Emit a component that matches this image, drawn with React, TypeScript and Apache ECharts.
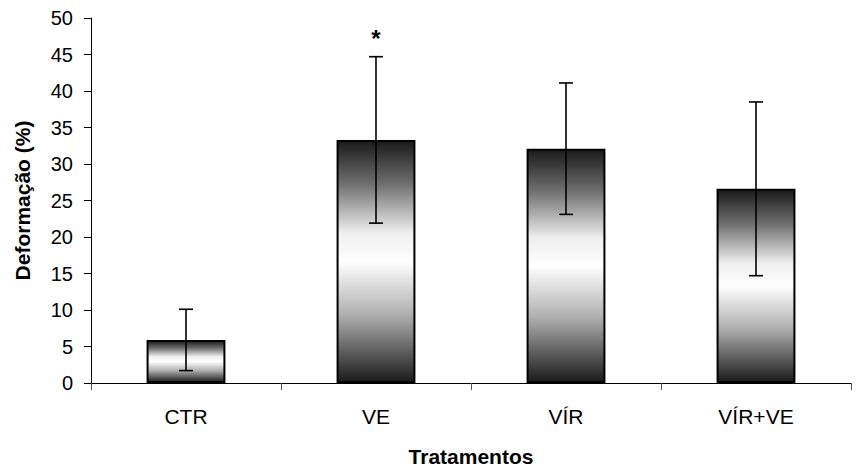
import React, { useEffect, useRef } from "react";
import * as echarts from "echarts";

const categories = ["CTR", "VE", "VÍR", "VÍR+VE"];
const means = [5.9, 33.3, 32.1, 26.6];
const errors = [4.2, 11.4, 9.0, 11.9];
const marks = ["", "*", "", ""];
const yTicks = { min: 0, max: 50, interval: 5 };

export default function App() {
  const ref = useRef<HTMLDivElement>(null);
  useEffect(() => {
    if (!ref.current) return;
    const chart = echarts.init(ref.current, undefined, { renderer: "svg" });
    const font = "Liberation Sans, Arial, sans-serif";
    const gradient = new echarts.graphic.LinearGradient(0, 0, 0, 1, [
      { offset: 0, color: "#1a1a1a" },
      { offset: 0.18, color: "#707070" },
      { offset: 0.38, color: "#eeeeee" },
      { offset: 0.5, color: "#ffffff" },
      { offset: 0.72, color: "#b0b0b0" },
      { offset: 1, color: "#1a1a1a" },
    ]);
    chart.setOption({
      animation: false,
      grid: { left: 91, right: 6, top: 18, bottom: 86 },
      xAxis: {
        type: "category",
        data: categories,
        axisLine: { lineStyle: { color: "#000", width: 1 } },
        axisTick: { show: true, length: 7, alignWithLabel: false, lineStyle: { color: "#555" } },
        axisLabel: { color: "#000", fontSize: 21, fontFamily: font, margin: 23 },
        name: "Tratamentos",
        nameLocation: "middle",
        nameGap: 63,
        nameTextStyle: { color: "#000", fontSize: 21, fontWeight: "bold", fontFamily: font },
      },
      yAxis: {
        type: "value",
        min: yTicks.min,
        max: yTicks.max,
        interval: yTicks.interval,
        axisLine: { show: true, lineStyle: { color: "#000", width: 1 } },
        axisTick: { show: true, length: 7, lineStyle: { color: "#000" } },
        splitLine: { show: false },
        axisLabel: { color: "#000", fontSize: 20, fontFamily: font, margin: 18 },
        name: "Deformação (%)",
        nameLocation: "middle",
        nameGap: 58,
        nameTextStyle: { color: "#000", fontSize: 21, fontWeight: "bold", fontFamily: font },
      },
      series: [
        {
          type: "bar",
          data: means,
          barWidth: "41.5%",
          itemStyle: { color: gradient, borderColor: "#000", borderWidth: 2 },
        },
        {
          type: "custom",
          data: categories.map((_, i) => [i, means[i] - errors[i], means[i] + errors[i]]),
          z: 10,
          renderItem: (params: any, api: any) => {
            const i = api.value(0);
            const lo = api.coord([i, api.value(1)]);
            const hi = api.coord([i, api.value(2)]);
            const x = lo[0];
            const half = 7;
            const style = { stroke: "#000", lineWidth: 1.6 };
            const children: any[] = [
              { type: "line", shape: { x1: x, y1: lo[1], x2: x, y2: hi[1] }, style },
              { type: "line", shape: { x1: x - half, y1: lo[1], x2: x + half, y2: lo[1] }, style },
              { type: "line", shape: { x1: x - half, y1: hi[1], x2: x + half, y2: hi[1] }, style },
            ];
            const m = marks[params.dataIndex];
            if (m) {
              children.push({
                type: "text",
                style: {
                  text: m,
                  x,
                  y: hi[1] - 30,
                  fill: "#000",
                  font: `bold 24px ${font}`,
                  align: "center",
                  verticalAlign: "top",
                },
              });
            }
            return { type: "group", children };
          },
        },
      ],
    });
    return () => chart.dispose();
  }, []);
  return (
    <div
      ref={ref}
      style={{ position: "fixed", left: 0, top: 0, width: 857, height: 472, background: "#fff" }}
    />
  );
}
